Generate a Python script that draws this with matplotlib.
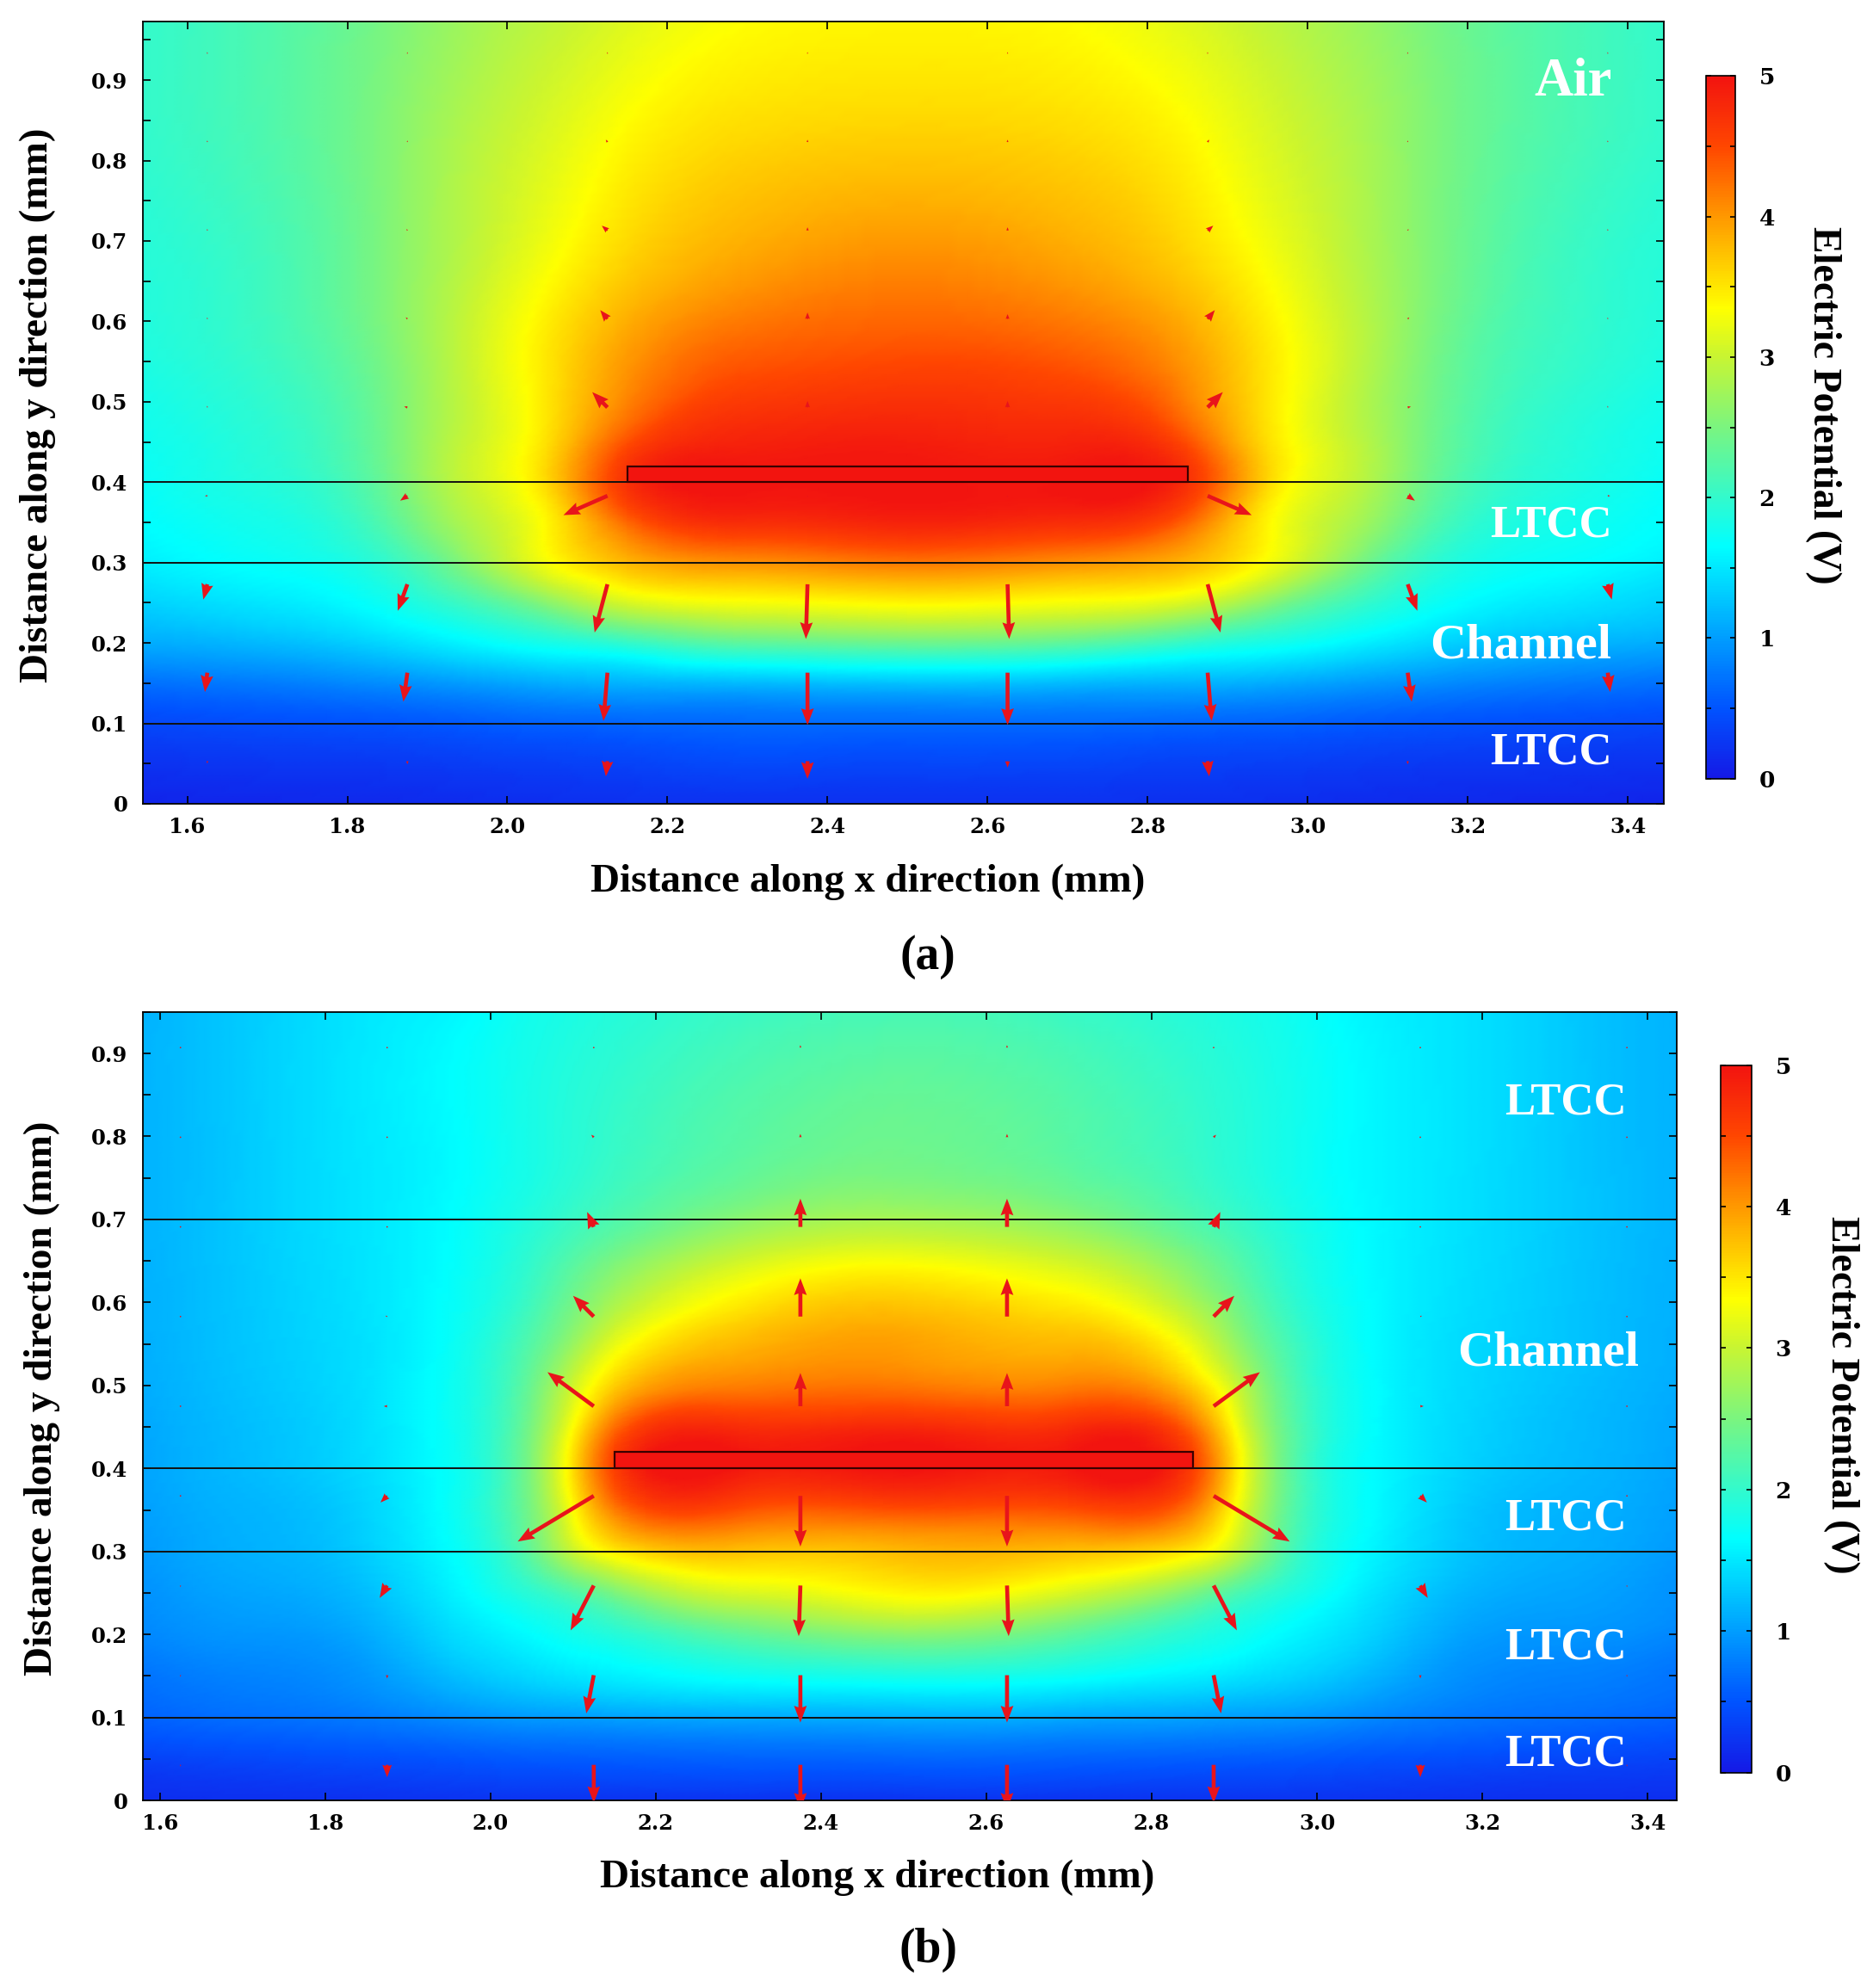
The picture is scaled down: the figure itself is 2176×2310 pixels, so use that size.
import numpy as np
import matplotlib
matplotlib.use('Agg')
import matplotlib.pyplot as plt
from matplotlib.colors import LinearSegmentedColormap, Normalize
from matplotlib.cm import ScalarMappable
from matplotlib.patches import Rectangle
from matplotlib.ticker import MultipleLocator, FuncFormatter
from matplotlib.font_manager import FontProperties
from matplotlib.tri import Triangulation, UniformTriRefiner, CubicTriInterpolator

# ---------------- panel (a): potential (V) ----------------
xa = [1.545, 1.7, 1.85, 1.95, 2.05, 2.15, 2.3, 2.5, 2.7, 2.85, 2.95, 3.05, 3.15, 3.3, 3.445]
ya = [0, 0.1, 0.15, 0.2, 0.25, 0.3, 0.35, 0.4, 0.45, 0.55, 0.65, 0.75, 0.85, 0.973]
pot_a = [
    [0.10, 0.12, 0.14, 0.16, 0.18, 0.20, 0.20, 0.20, 0.20, 0.20, 0.18, 0.16, 0.14, 0.12, 0.10],
    [0.40, 0.45, 0.50, 0.55, 0.60, 0.62, 0.65, 0.65, 0.65, 0.62, 0.60, 0.55, 0.50, 0.45, 0.40],
    [0.70, 0.78, 0.90, 1.00, 1.10, 1.15, 1.20, 1.25, 1.20, 1.15, 1.10, 1.00, 0.90, 0.78, 0.70],
    [1.10, 1.20, 1.40, 1.60, 1.80, 2.00, 2.30, 2.40, 2.30, 2.00, 1.80, 1.60, 1.40, 1.20, 1.10],
    [1.35, 1.50, 1.75, 2.10, 2.60, 3.10, 3.30, 3.40, 3.30, 3.10, 2.60, 2.10, 1.75, 1.50, 1.35],
    [1.55, 1.70, 2.00, 2.60, 3.30, 3.80, 4.05, 4.20, 4.05, 3.80, 3.30, 2.60, 2.00, 1.70, 1.55],
    [1.65, 1.80, 2.25, 2.85, 3.40, 4.30, 4.75, 4.85, 4.75, 4.30, 3.40, 2.85, 2.25, 1.80, 1.65],
    [1.70, 1.90, 2.40, 3.00, 3.60, 4.70, 5.00, 5.00, 5.00, 4.70, 3.60, 3.00, 2.40, 1.90, 1.70],
    [1.75, 1.95, 2.45, 3.00, 3.55, 4.45, 4.85, 4.90, 4.85, 4.45, 3.55, 3.00, 2.45, 1.95, 1.75],
    [1.85, 2.05, 2.50, 3.00, 3.50, 4.00, 4.40, 4.50, 4.40, 4.00, 3.50, 3.00, 2.50, 2.05, 1.85],
    [1.90, 2.10, 2.55, 2.95, 3.35, 3.70, 4.00, 4.15, 4.00, 3.70, 3.35, 2.95, 2.55, 2.10, 1.90],
    [1.95, 2.15, 2.55, 2.90, 3.20, 3.50, 3.75, 3.85, 3.75, 3.50, 3.20, 2.90, 2.55, 2.15, 1.95],
    [2.00, 2.20, 2.55, 2.85, 3.10, 3.35, 3.55, 3.60, 3.55, 3.35, 3.10, 2.85, 2.55, 2.20, 2.00],
    [2.00, 2.20, 2.50, 2.75, 2.95, 3.15, 3.35, 3.40, 3.35, 3.15, 2.95, 2.75, 2.50, 2.20, 2.00],
]

# ---------------- panel (b) ----------------
xb = [1.58, 1.7, 1.83, 1.95, 2.05, 2.1, 2.15, 2.3, 2.5, 2.7, 2.85, 2.9, 2.95, 3.05, 3.17, 3.3, 3.435]
yb = [0, 0.05, 0.1, 0.15, 0.2, 0.25, 0.3, 0.35, 0.4, 0.45, 0.5, 0.55, 0.6, 0.65, 0.7, 0.8, 0.95]
pot_b = [
    [0.18, 0.19, 0.20, 0.22, 0.22, 0.22, 0.22, 0.22, 0.22, 0.22, 0.22, 0.22, 0.22, 0.22, 0.20, 0.19, 0.18],
    [0.35, 0.40, 0.45, 0.50, 0.55, 0.56, 0.57, 0.60, 0.62, 0.60, 0.57, 0.56, 0.55, 0.50, 0.45, 0.40, 0.35],
    [0.60, 0.68, 0.75, 0.88, 0.98, 1.00, 1.03, 1.08, 1.12, 1.08, 1.03, 1.00, 0.98, 0.88, 0.75, 0.68, 0.60],
    [0.72, 0.82, 0.92, 1.20, 1.40, 1.48, 1.55, 1.72, 1.82, 1.72, 1.55, 1.48, 1.40, 1.20, 0.92, 0.82, 0.72],
    [0.85, 0.95, 1.05, 1.40, 1.65, 1.78, 1.90, 2.30, 2.60, 2.30, 1.90, 1.78, 1.65, 1.40, 1.05, 0.95, 0.85],
    [0.92, 1.05, 1.18, 1.55, 1.95, 2.20, 2.50, 3.10, 3.40, 3.10, 2.50, 2.20, 1.95, 1.55, 1.18, 1.05, 0.92],
    [0.98, 1.12, 1.28, 1.65, 2.35, 3.00, 3.45, 3.75, 3.80, 3.75, 3.45, 3.00, 2.35, 1.65, 1.28, 1.12, 0.98],
    [1.02, 1.15, 1.32, 1.70, 2.50, 3.35, 4.15, 4.45, 4.45, 4.45, 4.15, 3.35, 2.50, 1.70, 1.32, 1.15, 1.02],
    [1.05, 1.20, 1.38, 1.70, 2.55, 3.55, 4.55, 4.95, 5.00, 4.95, 4.55, 3.55, 2.55, 1.70, 1.38, 1.20, 1.05],
    [1.07, 1.22, 1.40, 1.72, 2.50, 3.35, 4.25, 4.75, 4.80, 4.75, 4.25, 3.35, 2.50, 1.72, 1.40, 1.22, 1.07],
    [1.10, 1.25, 1.42, 1.72, 2.40, 3.05, 3.65, 4.15, 4.20, 4.15, 3.65, 3.05, 2.40, 1.72, 1.42, 1.25, 1.10],
    [1.12, 1.27, 1.43, 1.70, 2.25, 2.70, 3.20, 3.80, 3.95, 3.80, 3.20, 2.70, 2.25, 1.70, 1.43, 1.27, 1.12],
    [1.13, 1.28, 1.45, 1.68, 2.10, 2.45, 2.80, 3.45, 3.70, 3.45, 2.80, 2.45, 2.10, 1.68, 1.45, 1.28, 1.13],
    [1.14, 1.29, 1.46, 1.66, 2.00, 2.25, 2.50, 3.05, 3.30, 3.05, 2.50, 2.25, 2.00, 1.66, 1.46, 1.29, 1.14],
    [1.15, 1.30, 1.47, 1.65, 1.90, 2.05, 2.20, 2.60, 2.80, 2.60, 2.20, 2.05, 1.90, 1.65, 1.47, 1.30, 1.15],
    [1.15, 1.30, 1.48, 1.63, 1.82, 1.92, 2.02, 2.25, 2.40, 2.25, 2.02, 1.92, 1.82, 1.63, 1.48, 1.30, 1.15],
    [1.15, 1.30, 1.48, 1.60, 1.78, 1.84, 1.90, 2.05, 2.15, 2.05, 1.90, 1.84, 1.78, 1.60, 1.48, 1.30, 1.15],
]

# ---------------- electric field arrows (mm) ----------------
arrow_cols = [1.625, 1.875, 2.125, 2.375, 2.625, 2.875, 3.125, 3.375]
arrow_rows_a = [0.053, 0.163, 0.273, 0.383, 0.493, 0.603, 0.713, 0.823, 0.933]
u_a = [
    [0, 0, -0.002, 0, 0, 0.002, 0, 0],
    [-0.003, -0.005, -0.005, 0, 0, 0.005, 0.005, 0.003],
    [-0.005, -0.012, -0.016, -0.002, 0.002, 0.016, 0.012, 0.005],
    [-0.003, -0.009, -0.055, 0, 0, 0.055, 0.009, 0.003],
    [0, -0.004, -0.019, 0, 0, 0.019, 0.004, 0],
    [0, -0.002, -0.009, 0, 0, 0.009, 0.002, 0],
    [0, -0.001, -0.007, 0, 0, 0.007, 0.001, 0],
    [0, 0, -0.002, 0, 0, 0.002, 0, 0],
    [0, 0, 0, 0, 0, 0, 0, 0],
]
v_a = [
    [-0.003, -0.004, -0.019, -0.022, -0.008, -0.019, -0.004, -0.003],
    [-0.024, -0.036, -0.060, -0.065, -0.065, -0.060, -0.036, -0.024],
    [-0.019, -0.033, -0.060, -0.068, -0.068, -0.060, -0.033, -0.019],
    [0.000, -0.006, -0.024, -0.002, -0.002, -0.024, -0.006, 0.000],
    [0.002, 0.001, 0.019, 0.008, 0.008, 0.019, 0.001, 0.002],
    [0.002, 0.002, 0.011, 0.008, 0.006, 0.011, 0.002, 0.002],
    [0.002, 0.002, 0.006, 0.004, 0.004, 0.006, 0.002, 0.002],
    [0.002, 0.002, 0.003, 0.003, 0.003, 0.003, 0.002, 0.002],
    [0.002, 0.002, 0.002, 0.002, 0.002, 0.002, 0.002, 0.002],
]
arrow_rows_b = [0.043, 0.151, 0.259, 0.367, 0.475, 0.583, 0.691, 0.799, 0.907]
u_b = [
    [0, 0, 0, 0, 0, 0, 0, 0],
    [0, 0, -0.009, 0, 0, 0.009, 0, 0],
    [0, -0.009, -0.028, -0.002, 0.002, 0.028, 0.009, 0],
    [0, -0.008, -0.092, 0, 0, 0.092, 0.008, 0],
    [0, -0.004, -0.056, 0, 0, 0.056, 0.004, 0],
    [0, -0.002, -0.025, 0, 0, 0.025, 0.002, 0],
    [0, 0, -0.008, 0, 0, 0.008, 0, 0],
    [0, 0, -0.003, 0, 0, 0.003, 0, 0],
    [0, 0, 0, 0, 0, 0, 0, 0],
]
v_b = [
    [-0.002, -0.015, -0.046, -0.054, -0.054, -0.046, -0.015, -0.002],
    [-0.002, -0.004, -0.046, -0.057, -0.057, -0.046, -0.004, -0.002],
    [-0.002, -0.015, -0.054, -0.061, -0.061, -0.054, -0.015, -0.002],
    [0, -0.008, -0.055, -0.061, -0.061, -0.055, -0.008, 0],
    [0, 0, 0.041, 0.040, 0.040, 0.041, 0, 0],
    [0, 0.001, 0.025, 0.046, 0.046, 0.025, 0.001, 0],
    [0, 0, 0.018, 0.034, 0.034, 0.018, 0, 0],
    [0, 0, 0.003, 0.004, 0.004, 0.003, 0, 0],
    [0, 0, 0, 0.003, 0.003, 0, 0, 0],
]

layers_a = [0.1, 0.3, 0.4]
layers_b = [0.1, 0.3, 0.4, 0.7]
names_a = [('Air', 3.38, 0.897, 45), ('LTCC', 3.38, 0.346, 38),
           ('Channel', 3.38, 0.196, 42), ('LTCC', 3.38, 0.064, 38)]
names_b = [('LTCC', 3.375, 0.84, 38), ('Channel', 3.39, 0.539, 42), ('LTCC', 3.375, 0.34, 38),
           ('LTCC', 3.375, 0.184, 38), ('LTCC', 3.375, 0.056, 38)]
electrode = (2.15, 2.85, 0.4, 0.42)

# colour map taken from the colour bar
cmap = LinearSegmentedColormap.from_list('potential', [
    (0.00, (0.08, 0.10, 0.90)),
    (0.10, (0.00, 0.33, 1.00)),
    (0.20, (0.00, 0.62, 1.00)),
    (0.33, (0.00, 1.00, 1.00)),
    (0.40, (0.20, 0.98, 0.80)),
    (0.50, (0.48, 0.96, 0.50)),
    (0.60, (0.78, 0.96, 0.20)),
    (0.67, (1.00, 1.00, 0.00)),
    (0.80, (1.00, 0.60, 0.00)),
    (0.90, (1.00, 0.28, 0.00)),
    (1.00, (0.95, 0.08, 0.06)),
])
norm = Normalize(0, 5)

tick_font = FontProperties(family='DejaVu Serif', weight='bold', size=17.5)
cbar_font = FontProperties(family='DejaVu Serif', weight='bold', size=19)
label_font = dict(family='Liberation Serif', weight='bold', size=34)
arrow_red = '#e8141b'


def field(ax, xs, ys, pot):
    X, Y = np.meshgrid(xs, ys)
    ny, nx = X.shape
    idx = np.arange(nx * ny).reshape(ny, nx)
    a, b = idx[:-1, :-1].ravel(), idx[:-1, 1:].ravel()
    c, d = idx[1:, 1:].ravel(), idx[1:, :-1].ravel()
    tris = np.vstack([np.c_[a, b, c], np.c_[a, c, d]])
    tri = Triangulation(X.ravel(), Y.ravel(), tris)
    z = np.asarray(pot, dtype=float).ravel()
    interp = CubicTriInterpolator(tri, z, kind='min_E')
    tri_f, z_f = UniformTriRefiner(tri).refine_field(z, triinterpolator=interp, subdiv=4)
    ax.tripcolor(tri_f, np.clip(z_f, 0, 5), cmap=cmap, norm=norm, shading='gouraud')


def panel(ax, cax, xs, ys, pot, xlim, ylim, layers, names, rows, u, v):
    field(ax, xs, ys, pot)
    for yl in layers:
        ax.axhline(yl, color='#111111', lw=1.4, zorder=3)
    x0, x1, y0, y1 = electrode
    ax.add_patch(Rectangle((x0, y0), x1 - x0, y1 - y0, facecolor=cmap(1.0),
                           edgecolor='#3a0000', lw=1.6, zorder=4))
    qx, qy = np.meshgrid(arrow_cols, rows)
    ax.quiver(qx, qy, np.array(u), np.array(v), angles='xy', scale_units='xy', scale=1,
              color=arrow_red, width=0.0026, headwidth=3.2, headlength=4.2,
              headaxislength=3.8, minlength=0.4, zorder=5)
    for name, tx, ty, fs in names:
        ax.text(tx, ty, name, color='white', ha='right', va='center',
                family='Liberation Serif', weight='bold', size=fs, zorder=6)
    ax.set_xlim(*xlim)
    ax.set_ylim(*ylim)
    ax.xaxis.set_major_locator(MultipleLocator(0.2))
    ax.yaxis.set_major_locator(MultipleLocator(0.1))
    ax.yaxis.set_minor_locator(MultipleLocator(0.05))
    ax.xaxis.set_major_formatter(FuncFormatter(lambda t, p: f'{t:.1f}'))
    ax.yaxis.set_major_formatter(FuncFormatter(lambda t, p: '0' if abs(t) < 1e-9 else f'{t:.1f}'))
    ax.tick_params(which='both', direction='in', top=True, right=True, length=6.5,
                   width=1.2, color='black')
    ax.tick_params(axis='x', pad=11)
    ax.tick_params(axis='y', pad=13)
    for lab in ax.get_xticklabels() + ax.get_yticklabels():
        lab.set_fontproperties(tick_font)
    for s in ax.spines.values():
        s.set_linewidth(1.3)

    cb = plt.colorbar(ScalarMappable(norm=norm, cmap=cmap), cax=cax)
    cb.outline.set_linewidth(1.2)
    cb.set_ticks([0, 1, 2, 3, 4, 5])
    cax.yaxis.set_minor_locator(MultipleLocator(0.5))
    cax.tick_params(which='both', direction='in', left=True, right=True, length=4,
                    width=1.2, pad=20)
    for lab in cax.get_yticklabels():
        lab.set_fontproperties(cbar_font)


fig = plt.figure(figsize=(21.76, 23.10), dpi=100)

ax_a = fig.add_axes([0.0765, 0.5957, 0.8118, 0.3935])
cax_a = fig.add_axes([0.9107, 0.6084, 0.0156, 0.3533])
panel(ax_a, cax_a, xa, ya, pot_a, (1.545, 3.445), (0, 0.973), layers_a, names_a,
      arrow_rows_a, u_a, v_a)

ax_b = fig.add_axes([0.0765, 0.0943, 0.8186, 0.3967])
cax_b = fig.add_axes([0.9187, 0.1084, 0.0164, 0.3558])
panel(ax_b, cax_b, xb, yb, pot_b, (1.58, 3.435), (0, 0.95), layers_b, names_b,
      arrow_rows_b, u_b, v_b)

# axis titles and panel letters
fig.text(0.4632, 0.5563, 'Distance along x direction (mm)', ha='center', va='center', **label_font)
fig.text(0.0202, 0.796, 'Distance along y direction (mm)', rotation=90, ha='center', va='center', **label_font)
fig.text(0.9733, 0.796, 'Electric Potential (V)', rotation=270, ha='center', va='center',
         family='Liberation Serif', weight='bold', size=33)
fig.text(0.4954, 0.5186, '(a)', ha='center', va='center', family='Liberation Serif',
         weight='bold', size=40)
fig.text(0.4685, 0.0554, 'Distance along x direction (mm)', ha='center', va='center', **label_font)
fig.text(0.0223, 0.2965, 'Distance along y direction (mm)', rotation=90, ha='center', va='center', **label_font)
fig.text(0.9830, 0.2984, 'Electric Potential (V)', rotation=270, ha='center', va='center',
         family='Liberation Serif', weight='bold', size=33)
fig.text(0.4955, 0.019, '(b)', ha='center', va='center', family='Liberation Serif',
         weight='bold', size=40)

fig.savefig('out.png', dpi=100)
